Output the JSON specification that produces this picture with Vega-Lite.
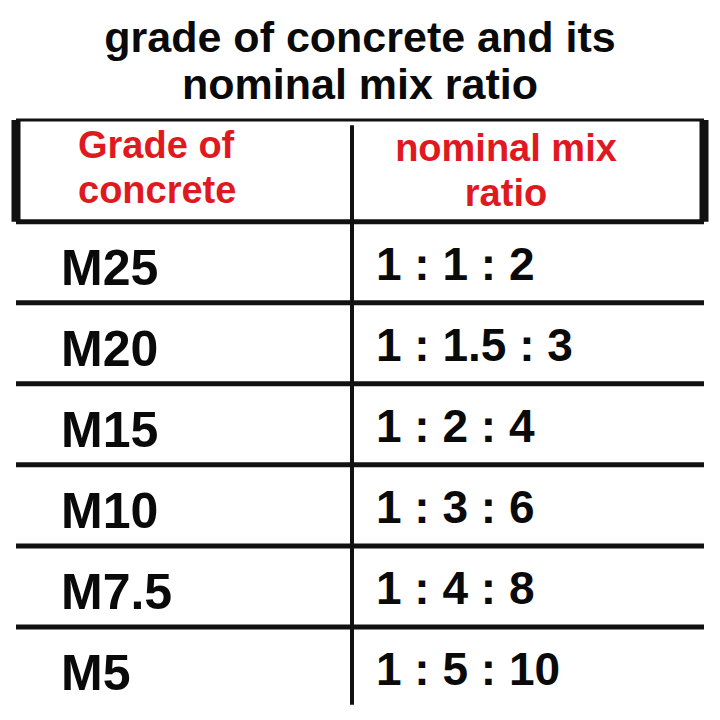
{
  "$schema": "https://vega.github.io/schema/vega-lite/v6.json",
  "width": 688,
  "height": 600,
  "autosize": {"type": "none"},
  "padding": {"top": 120, "left": 16, "right": 16, "bottom": 0},
  "background": "white",
  "config": {"view": {"stroke": null}},
  "title": {
    "text": ["grade of concrete and its", "nominal mix ratio"],
    "font": "Liberation Sans",
    "fontSize": 43,
    "fontWeight": "bold",
    "lineHeight": 47,
    "color": "#0a0a0a",
    "anchor": "middle",
    "offset": 8
  },
  "datasets": {
    "table": [
      {"row": 0, "grade": ["Grade of", "concrete"], "ratio": ["nominal mix", "ratio"]},
      {"row": 1, "grade": "M25", "ratio": "1 : 1 : 2"},
      {"row": 2, "grade": "M20", "ratio": "1 : 1.5 : 3"},
      {"row": 3, "grade": "M15", "ratio": "1 : 2 : 4"},
      {"row": 4, "grade": "M10", "ratio": "1 : 3 : 6"},
      {"row": 5, "grade": "M7.5", "ratio": "1 : 4 : 8"},
      {"row": 6, "grade": "M5", "ratio": "1 : 5 : 10"}
    ],
    "edges": [{"col": 0}, {"col": 2}]
  },
  "data": {"name": "table"},
  "layer": [
    {
      "transform": [{"filter": "datum.row <= 5"}],
      "mark": {"type": "rule", "strokeWidth": 5, "color": "#111111"},
      "encoding": {
        "y": {"field": "row", "type": "quantitative", "axis": null,
              "scale": {"domain": [-1.255, 6.148], "reverse": true, "nice": false, "zero": false}}
      }
    },
    {
      "transform": [{"filter": "datum.row == 0"}],
      "mark": {"type": "rule", "strokeWidth": 3, "color": "#111111"},
      "encoding": {
        "y": {"datum": -1.255, "type": "quantitative"}
      }
    },
    {
      "data": {"name": "edges"},
      "mark": {"type": "rule", "strokeWidth": 9, "color": "#111111"},
      "encoding": {
        "x": {"field": "col", "type": "quantitative", "axis": null,
              "scale": {"domain": [0, 1, 2], "range": [0, 336, 688]}},
        "y": {"datum": -1.255, "type": "quantitative"},
        "y2": {"datum": 0}
      }
    },
    {
      "transform": [{"filter": "datum.row == 0"}],
      "mark": {"type": "rule", "strokeWidth": 4, "color": "#111111"},
      "encoding": {
        "x": {"datum": 1, "type": "quantitative"},
        "y": {"datum": -1.19, "type": "quantitative"},
        "y2": {"datum": 5.96}
      }
    },
    {
      "transform": [{"filter": "datum.row == 0"}],
      "mark": {"type": "text", "font": "Liberation Sans", "fontWeight": "bold", "fontSize": 38,
               "lineHeight": 45, "color": "#e0191f", "align": "left", "baseline": "middle", "dx": 62, "dy": -75},
      "encoding": {
        "x": {"datum": 0, "type": "quantitative"},
        "y": {"field": "row", "type": "quantitative"},
        "text": {"field": "grade"}
      }
    },
    {
      "transform": [{"filter": "datum.row == 0"}],
      "mark": {"type": "text", "font": "Liberation Sans", "fontWeight": "bold", "fontSize": 38,
               "lineHeight": 45, "color": "#e0191f", "align": "center", "baseline": "middle", "dx": 154, "dy": -72},
      "encoding": {
        "x": {"datum": 1, "type": "quantitative"},
        "y": {"field": "row", "type": "quantitative"},
        "text": {"field": "ratio"}
      }
    },
    {
      "transform": [{"filter": "datum.row > 0"}],
      "mark": {"type": "text", "font": "Liberation Sans", "fontWeight": "bold", "fontSize": 50,
               "color": "#0a0a0a", "align": "left", "baseline": "middle", "dx": 45, "dy": -33},
      "encoding": {
        "x": {"datum": 0, "type": "quantitative"},
        "y": {"field": "row", "type": "quantitative"},
        "text": {"field": "grade"}
      }
    },
    {
      "transform": [{"filter": "datum.row > 0"}],
      "mark": {"type": "text", "font": "Liberation Sans", "fontWeight": "bold", "fontSize": 46,
               "color": "#0a0a0a", "align": "left", "baseline": "middle", "dx": 24, "dy": -37},
      "encoding": {
        "x": {"datum": 1, "type": "quantitative"},
        "y": {"field": "row", "type": "quantitative"},
        "text": {"field": "ratio"}
      }
    }
  ]
}
